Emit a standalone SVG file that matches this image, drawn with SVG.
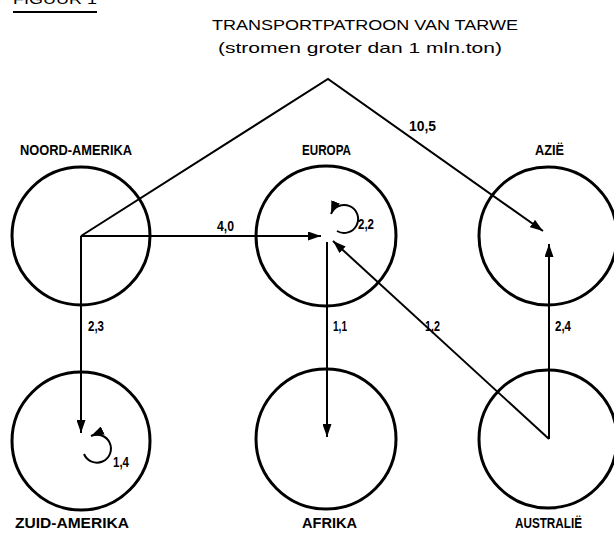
<svg xmlns="http://www.w3.org/2000/svg" width="614" height="533" viewBox="0 0 614 533">
<defs>
<style>
.c{fill:none;stroke:#000;stroke-width:3}
.k{fill:none;stroke:#000;stroke-width:2}
.lb{font-family:"Liberation Sans",Arial,sans-serif;font-weight:bold;font-size:15px;fill:#000}
.t{font-family:"Liberation Sans",Arial,sans-serif;font-size:15px;fill:#000}
</style>
<marker id="a" markerUnits="userSpaceOnUse" markerWidth="13" markerHeight="9" refX="13" refY="4.5" orient="auto"><path d="M0,0 L13,4.5 L0,9 z" fill="#000"/></marker>
</defs>
<rect width="614" height="533" fill="#fff"/>
<g id="header">
<text class="t" x="13" y="4" textLength="84" lengthAdjust="spacingAndGlyphs">FIGUUR 1</text>
<line x1="13" y1="12" x2="97" y2="12" stroke="#000" stroke-width="2"/>
<text class="t" x="212" y="30" textLength="306" lengthAdjust="spacingAndGlyphs">TRANSPORTPATROON VAN TARWE</text>
<text class="t" x="218" y="53" textLength="284" lengthAdjust="spacingAndGlyphs">(stromen groter dan 1 mln.ton)</text>
</g>
<g id="noord-amerika"><circle class="c" cx="81" cy="236" r="69"/><text class="lb" x="20" y="155" textLength="112" lengthAdjust="spacingAndGlyphs">NOORD-AMERIKA</text></g>
<g id="europa"><circle class="c" cx="326" cy="236" r="70"/><text class="lb" x="302" y="155" textLength="49" lengthAdjust="spacingAndGlyphs">EUROPA</text></g>
<g id="azie"><circle class="c" cx="548" cy="236" r="69"/><text class="lb" x="535" y="155" textLength="29" lengthAdjust="spacingAndGlyphs">AZIË</text></g>
<g id="zuid-amerika"><circle class="c" cx="81" cy="441" r="69"/><text class="lb" x="15" y="528" textLength="114" lengthAdjust="spacingAndGlyphs">ZUID-AMERIKA</text></g>
<g id="afrika"><circle class="c" cx="326" cy="439" r="70"/><text class="lb" x="302" y="528" textLength="55" lengthAdjust="spacingAndGlyphs">AFRIKA</text></g>
<g id="australie"><circle class="c" cx="548" cy="439" r="69"/><text class="lb" x="515" y="528" textLength="67" lengthAdjust="spacingAndGlyphs">AUSTRALIË</text></g>
<g id="connectors">
<path class="k" d="M81,236 H321" marker-end="url(#a)"/>
<path class="k" d="M81,236 V433" marker-end="url(#a)"/>
<path class="k" d="M81,236 L328,79 L543,231" marker-end="url(#a)"/>
<path class="k" d="M327,242 V437" marker-end="url(#a)"/>
<path class="k" d="M549,439 L333,241" marker-end="url(#a)"/>
<path class="k" d="M549,439 V244" marker-end="url(#a)"/>
<path class="k" d="M337,231 A14,14 0 1 0 331,214" marker-end="url(#a)"/>
<path class="k" d="M84,454 A14,14 0 1 0 91,436" marker-end="url(#a)"/>
<text class="lb" x="217" y="231" textLength="17" lengthAdjust="spacingAndGlyphs">4,0</text>
<text class="lb" x="88" y="331" textLength="16" lengthAdjust="spacingAndGlyphs">2,3</text>
<text class="lb" x="409" y="131" textLength="27" lengthAdjust="spacingAndGlyphs">10,5</text>
<text class="lb" x="358" y="229" textLength="16" lengthAdjust="spacingAndGlyphs">2,2</text>
<text class="lb" x="333" y="331" textLength="14" lengthAdjust="spacingAndGlyphs">1,1</text>
<text class="lb" x="425" y="331" textLength="15" lengthAdjust="spacingAndGlyphs">1,2</text>
<text class="lb" x="555" y="331" textLength="16" lengthAdjust="spacingAndGlyphs">2,4</text>
<text class="lb" x="113" y="467" textLength="16" lengthAdjust="spacingAndGlyphs">1,4</text>
</g>
</svg>
